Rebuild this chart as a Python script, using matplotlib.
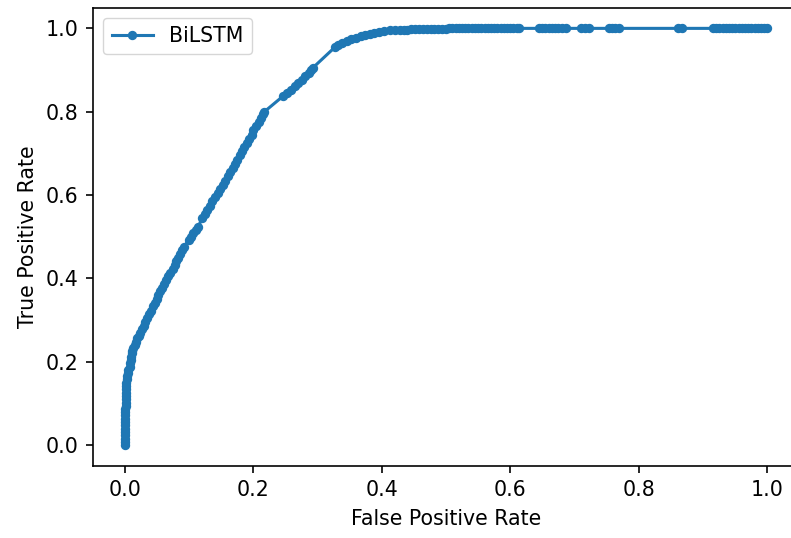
import matplotlib
matplotlib.use('Agg')
import matplotlib.pyplot as plt

# ROC points (BiLSTM)
fpr = [
    0.000, 0.000, 0.000, 0.000, 0.000, 0.000, 0.000, 0.000, 0.000, 0.000, 0.000, 0.000,
    0.002, 0.002, 0.002, 0.002, 0.002, 0.002, 0.002, 0.002,
    0.003, 0.003, 0.005, 0.005, 0.007, 0.007, 0.009, 0.009, 0.011, 0.011,
    0.013, 0.015, 0.017, 0.019, 0.021, 0.023, 0.026, 0.029, 0.031, 0.034,
    0.037, 0.040, 0.043, 0.046, 0.049, 0.052, 0.055, 0.058, 0.061, 0.064,
    0.067, 0.070, 0.074, 0.077, 0.080, 0.083, 0.086, 0.089, 0.092,
    0.099, 0.102, 0.106, 0.110, 0.114,
    0.120, 0.124, 0.128, 0.132, 0.136, 0.140, 0.144, 0.148, 0.152, 0.156,
    0.160, 0.164, 0.168, 0.171, 0.175, 0.179, 0.182, 0.186, 0.190, 0.193,
    0.197, 0.200, 0.204, 0.208, 0.211, 0.215, 0.217,
    0.246, 0.252, 0.258, 0.264, 0.270, 0.276, 0.281, 0.286, 0.290, 0.293,
    0.327, 0.332, 0.338, 0.345, 0.352, 0.360, 0.367, 0.374, 0.381, 0.388,
    0.396, 0.404, 0.412, 0.420, 0.428, 0.434, 0.440, 0.446, 0.452, 0.458,
    0.464, 0.470, 0.476, 0.482, 0.488, 0.494, 0.500,
    0.505, 0.510, 0.515, 0.520, 0.525, 0.530, 0.535, 0.540, 0.545, 0.550,
    0.555, 0.560, 0.565, 0.570, 0.575, 0.580, 0.585, 0.590, 0.595, 0.600,
    0.605, 0.610, 0.614,
    0.645, 0.650, 0.655, 0.660, 0.665, 0.670, 0.675, 0.680, 0.687,
    0.711, 0.716, 0.723,
    0.754, 0.759, 0.764, 0.770,
    0.862, 0.868,
    0.916, 0.921, 0.926, 0.931, 0.936, 0.941, 0.946, 0.951, 0.956, 0.961,
    0.966, 0.971, 0.976, 0.981, 0.986, 0.991, 0.996, 1.000,
]
tpr = [
    0.000, 0.008, 0.016, 0.024, 0.032, 0.040, 0.048, 0.056, 0.064, 0.072, 0.080, 0.086,
    0.094, 0.102, 0.110, 0.118, 0.126, 0.134, 0.142, 0.150,
    0.158, 0.165, 0.172, 0.180, 0.188, 0.196, 0.204, 0.212, 0.220, 0.227,
    0.234, 0.241, 0.248, 0.256, 0.263, 0.270, 0.278, 0.287, 0.296, 0.305,
    0.314, 0.323, 0.333, 0.342, 0.351, 0.360, 0.369, 0.378, 0.387, 0.396,
    0.405, 0.414, 0.423, 0.432, 0.441, 0.450, 0.459, 0.468, 0.476,
    0.493, 0.500, 0.508, 0.516, 0.524,
    0.545, 0.555, 0.565, 0.575, 0.585, 0.595, 0.605, 0.615, 0.625, 0.635,
    0.645, 0.655, 0.665, 0.675, 0.685, 0.695, 0.705, 0.715, 0.725, 0.735,
    0.745, 0.755, 0.765, 0.775, 0.785, 0.795, 0.800,
    0.837, 0.845, 0.853, 0.861, 0.869, 0.877, 0.885, 0.893, 0.900, 0.906,
    0.955, 0.960, 0.965, 0.970, 0.974, 0.978, 0.981, 0.984, 0.987, 0.989,
    0.991, 0.993, 0.995, 0.996, 0.997, 0.997, 0.997, 0.998, 0.998, 0.998,
    0.998, 0.998, 0.998, 0.999, 0.999, 0.999, 0.999,
    1.000, 1.000, 1.000, 1.000, 1.000, 1.000, 1.000, 1.000, 1.000, 1.000,
    1.000, 1.000, 1.000, 1.000, 1.000, 1.000, 1.000, 1.000, 1.000, 1.000,
    1.000, 1.000, 1.000,
    1.000, 1.000, 1.000, 1.000, 1.000, 1.000, 1.000, 1.000, 1.000,
    1.000, 1.000, 1.000,
    1.000, 1.000, 1.000, 1.000,
    1.000, 1.000,
    1.000, 1.000, 1.000, 1.000, 1.000, 1.000, 1.000, 1.000, 1.000, 1.000,
    1.000, 1.000, 1.000, 1.000, 1.000, 1.000, 1.000, 1.000,
]

k = 1.48  # scale of the reference rendering relative to matplotlib defaults
plt.rcParams['font.size'] = 10 * k

fig = plt.figure(figsize=(7.91, 5.38), dpi=100)
# right spine lies just outside the picture, as in the reference crop
fig.subplots_adjust(left=0.1176, right=1.0101, bottom=0.1338, top=0.986)
ax = fig.add_subplot(111)

ax.plot(fpr, tpr, marker='.', color='#1f77b4', linewidth=1.5 * k,
        markersize=10.5, markeredgewidth=1.0 * k, label='BiLSTM')

ax.set_xlabel('False Positive Rate', labelpad=4 * k)
ax.set_ylabel('True Positive Rate', labelpad=4 * k)
for s in ax.spines.values():
    s.set_linewidth(0.8 * k)
ax.tick_params(width=0.8 * k, length=3.5 * k, pad=3.5 * k)
ax.legend(loc='upper left', borderpad=0.4, handlelength=2.0)

fig.savefig('out.png', dpi=100)
